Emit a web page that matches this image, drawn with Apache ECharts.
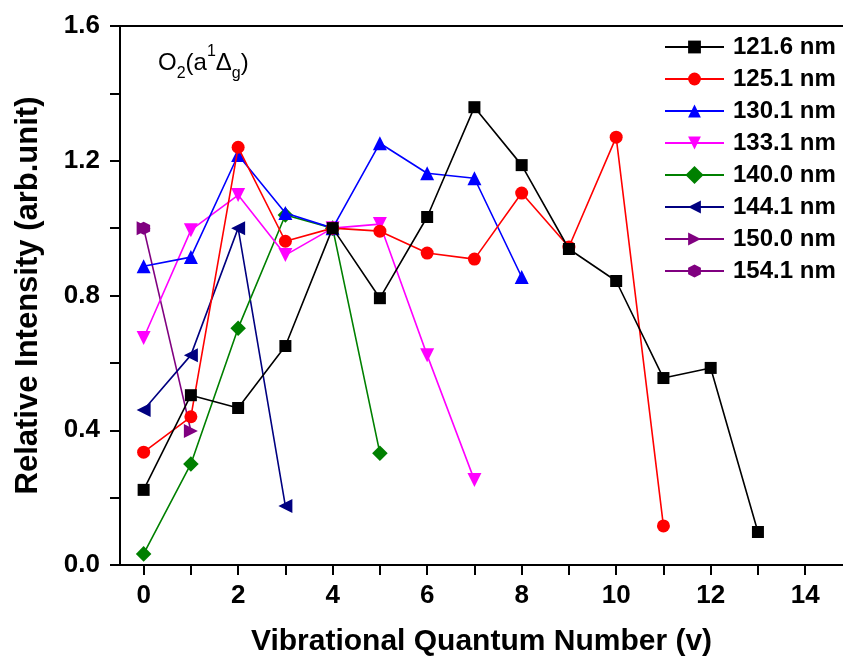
<!DOCTYPE html>
<html>
<head>
<meta charset="UTF-8">
<script src="https://cdn.jsdelivr.net/npm/echarts@6/dist/echarts.min.js"></script>
<style>
  html, body { margin: 0; padding: 0; background: #fff; }
  #main { width: 843px; height: 664px; }
</style>
</head>
<body>
<div id="main"></div>
<script>
// values, index = vibrational quantum number v
const wl_1216 = [0.223, 0.504, 0.466, 0.65, 1.0, 0.792, 1.033, 1.359, 1.187, 0.938, 0.843, 0.555, 0.585, 0.098];
const wl_1251 = [0.335, 0.44, 1.24, 0.961, 1.0, 0.991, 0.926, 0.908, 1.104, 0.944, 1.27, 0.116];
const wl_1301 = [0.887, 0.914, 1.217, 1.045, 1.0, 1.252, 1.163, 1.148, 0.855];
const wl_1331 = [0.674, 0.994, 1.098, 0.92, 1.0, 1.012, 0.623, 0.252];
const wl_1400 = [0.033, 0.30, 0.703, 1.039, 1.0, 0.332];
const wl_1441 = [0.46, 0.623, 1.0, 0.175];
const wl_1500 = [1.0, 0.398];
const wl_1541 = [1.0];

const names = ['121.6 nm', '125.1 nm', '130.1 nm', '133.1 nm', '140.0 nm', '144.1 nm', '150.0 nm', '154.1 nm'];
const values = [wl_1216, wl_1251, wl_1301, wl_1331, wl_1400, wl_1441, wl_1500, wl_1541];

// tick positions on the x axis
const xTicks = [0, 1, 2, 3, 4, 5, 6, 7, 8, 9, 10, 11, 12, 13, 14];
const xLabels = [0, 2, 4, 6, 8, 10, 12, 14];

const colors = ['#000000', '#ff0000', '#0000ff', '#ff00ff', '#008000', '#000080', '#800080', '#800080'];
const hexagon = 'path://M50,0 L93.3,25 L93.3,75 L50,100 L6.7,75 L6.7,25 Z';
const symbols = ['rect', 'circle', 'triangle', 'triangle', 'rect', 'triangle', 'triangle', hexagon];
const rotates = [0, 0, 0, 180, 45, 90, -90, 0];
const sizes = [12, 13, 14, 14, 11, 14, 14, 13];

const font = 'Liberation Sans, Arial, sans-serif';

var myChart = echarts.init(document.getElementById('main'));

const series = names.map((n, i) => ({
    name: n,
    type: 'line',
    data: values[i].map((v, k) => [k, v]),
    symbol: symbols[i],
    symbolSize: sizes[i],
    symbolRotate: rotates[i],
    showAllSymbol: true,
    color: colors[i],
    lineStyle: { width: 1.6, color: colors[i] },
    itemStyle: { color: colors[i] },
    z: 10 - i
}));

myChart.setOption({
    backgroundColor: '#ffffff',
    animation: false,
    grid: { left: 120, right: 0, top: 26, bottom: 99 },
    legend: {
        data: names,
        orient: 'vertical',
        left: 659,
        top: 30,
        itemWidth: 59,
        itemHeight: 16,
        itemGap: 8,
        textStyle: { fontFamily: font, fontWeight: 'bold', fontSize: 24, color: '#000', lineHeight: 24, padding: [0, 0, 0, 4] }
    },
    xAxis: [{
        type: 'value',
        min: -0.5,
        max: 14.8,
        name: 'Vibrational Quantum Number (v)',
        nameLocation: 'middle',
        nameGap: 62,
        nameTextStyle: { fontFamily: font, fontWeight: 'bold', fontSize: 30, color: '#000' },
        axisLine: { onZero: false, lineStyle: { color: '#000', width: 2 } },
        axisTick: { inside: false, length: 10, customValues: xTicks, lineStyle: { color: '#000', width: 2 } },
        axisLabel: {
            margin: 18, fontFamily: font, fontWeight: 'bold', fontSize: 26, color: '#000',
            customValues: xLabels
        },
        splitLine: { show: false }
    }, {
        type: 'value',
        position: 'top',
        min: -0.5,
        max: 14.8,
        axisLine: { show: true, onZero: false, lineStyle: { color: '#000', width: 2 } },
        axisTick: { show: false },
        axisLabel: { show: false },
        splitLine: { show: false }
    }],
    yAxis: {
        type: 'value',
        min: 0,
        max: 1.6,
        interval: 0.4,
        name: 'Relative Intensity (arb.unit)',
        nameLocation: 'middle',
        nameGap: 76,
        nameTextStyle: { fontFamily: font, fontWeight: 'bold', fontSize: 31, color: '#000' },
        axisLine: { show: true, onZero: false, lineStyle: { color: '#000', width: 2 } },
        axisTick: { inside: false, length: 10, lineStyle: { color: '#000', width: 2 } },
        minorTick: { show: true, splitNumber: 2, length: 10, lineStyle: { color: '#000', width: 2 } },
        axisLabel: {
            margin: 20, fontFamily: font, fontWeight: 'bold', fontSize: 26, color: '#000',
            formatter: v => v.toFixed(1)
        },
        splitLine: { show: false }
    },
    graphic: [{
        type: 'text',
        left: 158,
        top: 44,
        style: {
            text: '{n|O}{sub|2}{n|(a}{sup|1}{n|Δ}{sub|g}{n|)}',
            rich: {
                n: { fontFamily: font, fontSize: 24, fill: '#000', lineHeight: 38 },
                sub: { fontFamily: font, fontSize: 16, fill: '#000', verticalAlign: 'bottom', lineHeight: 38 },
                sup: { fontFamily: font, fontSize: 16, fill: '#000', verticalAlign: 'top', lineHeight: 38 }
            }
        }
    }],
    series: series
});
</script>
</body>
</html>
